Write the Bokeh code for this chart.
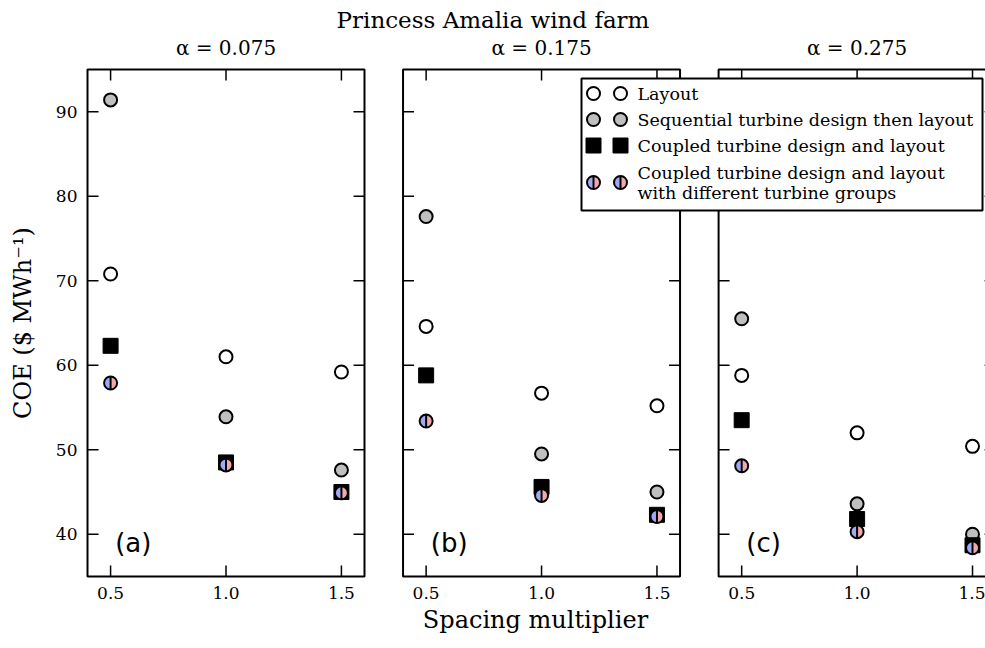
import numpy as np
from bokeh.plotting import figure
from bokeh.layouts import column
from bokeh.models import Range1d, FixedTicker, Label
from bokeh.embed import file_html
from bokeh.resources import INLINE

# ---- data: cost of energy ($/MWh) against turbine spacing multiplier ----
spacing = [0.5, 1.0, 1.5]
alpha_labels = ["0.075", "0.175", "0.275"]
panel_tags = ["(a)", "(b)", "(c)"]

# one list per wind-shear exponent (alpha = 0.075, 0.175, 0.275)
coe_layout = [[70.8, 61.0, 59.2], [64.6, 56.7, 55.2], [58.8, 52.0, 50.4]]
coe_sequential = [[91.4, 53.9, 47.6], [77.6, 49.5, 45.0], [65.5, 43.6, 40.0]]
coe_coupled = [[62.3, 48.5, 45.0], [58.8, 45.6, 42.3], [53.5, 41.8, 38.7]]
coe_groups = [[57.9, 48.2, 44.9], [53.4, 44.6, 42.1], [48.1, 40.3, 38.4]]

y_ticks = [40, 50, 60, 70, 80, 90]
x_ticks = [0.5, 1.0, 1.5]

legend_labels = [
    "Layout",
    "Sequential turbine design then layout",
    "Coupled turbine design and layout",
    ("Coupled turbine design and layout", "with different turbine groups"),
]

# ---- layout geometry (pixels) ----
W, H = 985, 648
HEAD = 67                                   # header strip with the titles
FL, FR = 85, 985                            # frame left/right
FB = 578                                    # frame bottom (page coordinates)
PXX = 277 / 1.2                             # pixels per x unit
PXY = 507 / 60.0                            # pixels per y unit
PANEL_X = (0.4, 1.6)
PANEL_Y = (35.0, 95.0)
PERIOD = 1.367                              # panel-to-panel shift in x units
offsets = [k * PERIOD for k in range(3)]

x0 = PANEL_X[0] - 2 / PXX
x1 = x0 + (FR - FL) / PXX
y0 = PANEL_Y[0] - 2 / PXY
y1 = y0 + (FB - HEAD) / PXY


def sx(px):
    return x0 + (px - FL) / PXX


def sy(py):
    return y1 - (py - HEAD) / PXY


SERIF = "DejaVu Serif"
SANS = "DejaVu Sans"
BLUE = "#a3a8f2"
PINK = "#f2a9a9"
GRAY = "#bfbfbf"

x_range = Range1d(x0, x1)

# ---- header with figure title and per-panel subtitles ----
head = figure(width=W, height=HEAD, output_backend="svg", toolbar_location=None,
              x_range=x_range, y_range=Range1d(HEAD, 0),
              x_axis_type=None, y_axis_type=None,
              min_border_left=FL, min_border_right=0, min_border_top=0,
              min_border_bottom=0)
head.outline_line_color = None
head.grid.visible = False
head.add_layout(Label(x=sx(W / 2), y=19, text="Princess Amalia wind farm",
                      text_font=SERIF, text_font_size="23px", text_color="black",
                      text_baseline="middle", text_align="center"))
for k in range(3):
    head.add_layout(Label(x=offsets[k] + 1.0, y=47, text=f"α = {alpha_labels[k]}",
                          text_font=SERIF, text_font_size="20px", text_color="black",
                          text_baseline="middle", text_align="center"))

# ---- main plotting area ----
p = figure(width=W, height=H - HEAD, output_backend="svg", toolbar_location=None,
           x_range=x_range, y_range=Range1d(y0, y1),
           min_border_left=FL, min_border_right=0,
           min_border_top=0, min_border_bottom=H - FB)
p.outline_line_color = None
p.grid.visible = False

gx_ticks = [o + t for o in offsets for t in x_ticks]
xa = p.xaxis[0]
xa.ticker = FixedTicker(ticks=gx_ticks)
xa.major_label_overrides = {o + t: f"{t:.1f}" for o in offsets for t in x_ticks}
xa.axis_line_color = None
xa.major_tick_in = 0
xa.major_tick_out = 0
xa.minor_tick_line_color = None
xa.major_label_text_font = SERIF
xa.major_label_text_font_size = "17px"
xa.major_label_text_color = "black"
xa.major_label_standoff = 8
xa.axis_label = "Spacing multiplier"
xa.axis_label_text_font = SERIF
xa.axis_label_text_font_size = "24px"
xa.axis_label_text_font_style = "normal"
xa.axis_label_text_color = "black"
xa.axis_label_standoff = 4

ya = p.yaxis[0]
ya.ticker = FixedTicker(ticks=y_ticks)
ya.axis_line_color = None
ya.major_tick_in = 0
ya.major_tick_out = 0
ya.minor_tick_line_color = None
ya.major_label_text_font = SERIF
ya.major_label_text_font_size = "17px"
ya.major_label_text_color = "black"
ya.major_label_standoff = 8
ya.axis_label = "COE ($ MWh⁻¹)"
ya.axis_label_text_font = SERIF
ya.axis_label_text_font_size = "24px"
ya.axis_label_text_font_style = "normal"
ya.axis_label_text_color = "black"
ya.axis_label_standoff = 16

# ---- panel frames and inward ticks ----
TICK = 11
p.quad(left=[o + PANEL_X[0] for o in offsets], right=[o + PANEL_X[1] for o in offsets],
       bottom=PANEL_Y[0], top=PANEL_Y[1], fill_color=None,
       line_color="black", line_width=2)

tx0, ty0, tx1, ty1 = [], [], [], []
for o in offsets:
    for t in x_ticks:
        tx0 += [o + t, o + t]
        tx1 += [o + t, o + t]
        ty0 += [PANEL_Y[0], PANEL_Y[1]]
        ty1 += [PANEL_Y[0] + TICK / PXY, PANEL_Y[1] - TICK / PXY]
    for t in y_ticks:
        tx0 += [o + PANEL_X[0], o + PANEL_X[1]]
        tx1 += [o + PANEL_X[0] + TICK / PXX, o + PANEL_X[1] - TICK / PXX]
        ty0 += [t, t]
        ty1 += [t, t]
p.segment(x0=tx0, y0=ty0, x1=tx1, y1=ty1, line_color="black", line_width=1.5)

# ---- data markers ----
MS = 13


def gxs(k):
    return [offsets[k] + s for s in spacing]


def half_marker(xs, ys, size, level="glyph"):
    r = size / 2.0
    p.wedge(x=xs, y=ys, radius=r, radius_units="screen", start_angle=np.pi / 2,
            end_angle=3 * np.pi / 2, fill_color=BLUE, line_color=None, level=level)
    p.wedge(x=xs, y=ys, radius=r, radius_units="screen", start_angle=-np.pi / 2,
            end_angle=np.pi / 2, fill_color=PINK, line_color=None, level=level)
    p.scatter(x=xs, y=ys, marker="circle", size=size, fill_color=None,
              line_color="black", line_width=2, level=level)
    p.scatter(x=xs, y=ys, marker="dash", angle=np.pi / 2, size=size,
              line_color="black", line_width=2, level=level)


for k in range(3):
    xs = gxs(k)
    p.scatter(x=xs, y=coe_layout[k], marker="circle", size=MS, fill_color="white",
              line_color="black", line_width=2)
    p.scatter(x=xs, y=coe_sequential[k], marker="circle", size=MS, fill_color=GRAY,
              line_color="black", line_width=2)
    p.scatter(x=xs, y=coe_coupled[k], marker="square", size=15, fill_color="black",
              line_color="black", line_width=1)
    half_marker(xs, coe_groups[k], MS)

    p.add_layout(Label(x=offsets[k] + 0.52, y=39.0, text=panel_tags[k],
                       text_font=SANS, text_font_size="26px", text_color="black",
                       text_baseline="middle", text_align="left"))

# ---- legend (two keys per entry) ----
LB_L, LB_R, LB_T, LB_B = 581, 982, 78, 210
p.quad(left=sx(LB_L), right=sx(LB_R), top=sy(LB_T), bottom=sy(LB_B),
       fill_color="white", line_color="black", line_width=2, level="annotation")
key_px = [593, 620]
row_py = [93, 119, 145, 182]
text_px = 637
kx = [sx(v) for v in key_px]
p.scatter(x=kx, y=[sy(row_py[0])] * 2, marker="circle", size=MS, fill_color="white",
          line_color="black", line_width=2, level="overlay")
p.scatter(x=kx, y=[sy(row_py[1])] * 2, marker="circle", size=MS, fill_color=GRAY,
          line_color="black", line_width=2, level="overlay")
p.scatter(x=kx, y=[sy(row_py[2])] * 2, marker="square", size=15, fill_color="black",
          line_color="black", line_width=1, level="overlay")
half_marker(kx, [sy(row_py[3])] * 2, MS, level="overlay")

for i, lab in enumerate(legend_labels):
    lines = lab if isinstance(lab, tuple) else (lab,)
    ys = [row_py[i]] if len(lines) == 1 else [row_py[i] - 10, row_py[i] + 10]
    for line, py in zip(lines, ys):
        p.add_layout(Label(x=sx(text_px), y=sy(py), text=line, text_font=SERIF,
                           text_font_size="17.5px", text_color="black",
                           text_baseline="middle", text_align="left", level="overlay"))

page = column(head, p, spacing=0)
open("out.html", "w").write(file_html(page, INLINE))
